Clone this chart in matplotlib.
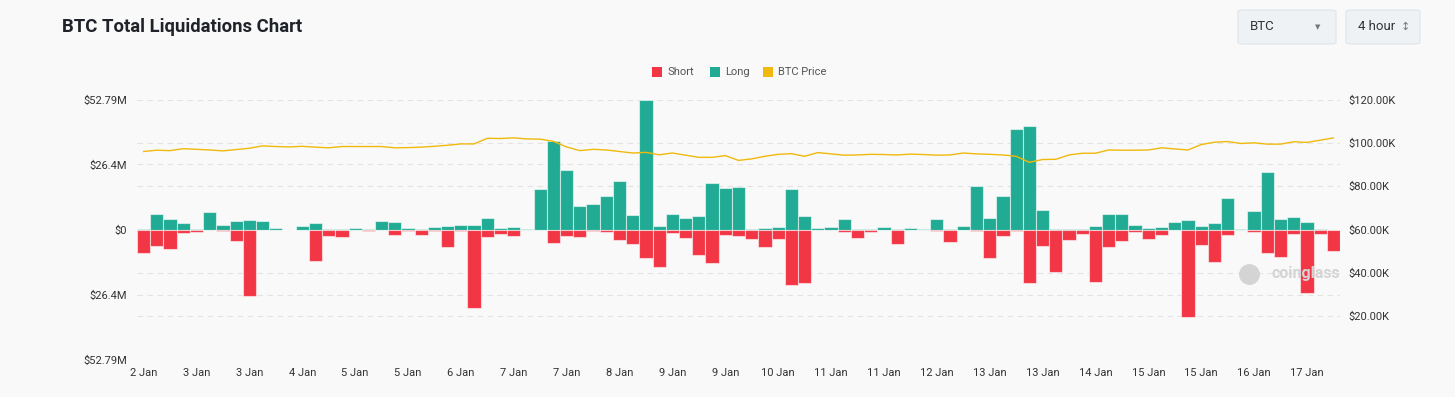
import matplotlib
matplotlib.use("Agg")
import matplotlib.pyplot as plt
from matplotlib.patches import FancyBboxPatch
import numpy as np
import pandas as pd

# 4-hour buckets, 2 Jan 12:00 -> 17 Jan 08:00
times = pd.date_range("2025-01-02 12:00", periods=91, freq="4h")

# long liquidations ($M), shown above zero
long_m = [0.3, 6.4, 4.2, 2.6, 0.3, 7.0, 1.9, 3.5, 3.9, 3.4,
          0.8, 0.0, 1.6, 2.8, 0.1, 0.1, 0.5, 0.1, 3.4, 3.0,
          0.8, 0.4, 1.1, 1.4, 1.8, 1.8, 4.7, 0.7, 1.1, 0.05,
          16.5, 36.0, 24.2, 9.6, 10.4, 13.8, 19.8, 5.7, 52.7, 1.5,
          6.4, 4.5, 5.6, 18.7, 16.7, 17.2, 0.1, 0.5, 1.1, 16.4,
          5.4, 0.7, 1.1, 4.3, 0.1, 0.3, 0.9, 0.2, 0.7, 0.4,
          4.3, 0.1, 1.5, 17.6, 4.7, 13.8, 40.8, 42.1, 7.9, 0.2,
          0.3, 0.3, 1.6, 6.2, 6.4, 2.0, 0.8, 1.2, 3.0, 3.9,
          1.6, 2.8, 12.7, 0.1, 7.6, 23.3, 4.3, 4.9, 3.0, 0.1, 0.0]

# short liquidations ($M), shown below zero
short_m = [9.6, 6.6, 8.1, 1.5, 0.9, 0.1, 0.8, 4.6, 27.2, 0.3,
           0.2, 0.4, 0.1, 12.7, 2.7, 3.0, 0.1, 0.7, 0.1, 2.2,
           0.7, 2.3, 0.8, 7.0, 0.5, 31.7, 3.2, 1.9, 2.6, 0.1,
           0.3, 5.3, 2.6, 3.0, 0.7, 1.1, 4.3, 5.8, 11.6, 15.2,
           1.5, 3.5, 10.2, 13.8, 2.4, 2.7, 3.9, 7.0, 3.9, 22.7,
           21.7, 0.4, 0.1, 1.1, 3.5, 1.1, 0.1, 6.0, 0.1, 0.1,
           0.5, 5.0, 0.1, 0.7, 11.6, 2.7, 0.7, 21.7, 6.9, 17.1,
           4.3, 1.8, 21.4, 7.2, 4.6, 0.9, 3.7, 2.4, 0.3, 35.7,
           6.4, 13.4, 2.3, 0.2, 1.2, 9.7, 11.0, 1.8, 25.9, 1.8, 8.9]

# BTC price ($K)
price_k = [96.0, 96.6, 96.4, 97.3, 97.0, 96.7, 96.3, 96.9, 97.5, 98.6,
           98.3, 98.1, 98.4, 98.0, 97.7, 98.3, 98.3, 98.3, 98.3, 97.7,
           97.8, 98.0, 98.4, 98.9, 99.5, 99.5, 102.1, 102.0, 102.3, 101.8,
           101.7, 100.7, 98.1, 96.4, 97.0, 96.7, 96.0, 95.3, 95.6, 94.5,
           95.3, 94.3, 93.3, 93.3, 94.1, 91.9, 92.6, 93.8, 94.7, 95.0,
           93.8, 95.5, 94.9, 94.3, 94.4, 94.7, 94.6, 94.4, 94.8, 94.6,
           94.3, 94.4, 95.3, 94.9, 94.7, 94.4, 93.8, 91.0, 92.3, 92.4,
           94.4, 95.2, 95.2, 96.7, 96.6, 96.6, 96.7, 97.7, 97.2, 96.7,
           99.2, 100.3, 100.6, 99.7, 100.0, 99.4, 99.4, 100.5, 100.2, 101.2, 102.3]

left_ticks = [-52.79, -26.4, 0, 26.4, 52.79]
left_labels = ["$52.79M", "$26.4M", "$0", "$26.4M", "$52.79M"]
right_ticks = [20, 40, 60, 80, 100, 120]
right_labels = ["$20.00K", "$40.00K", "$60.00K", "$80.00K", "$100.00K", "$120.00K"]

RED = "#f23645"
TEAL = "#22ab94"
GOLD = "#f0b90b"
BG = "#f9f9f9"
TXT = "#333333"

plt.rcParams["font.family"] = ["Roboto", "DejaVu Sans"]

fig = plt.figure(figsize=(14.55, 3.97), dpi=100, facecolor=BG)
ax = fig.add_axes([137 / 1455, 1 - 359.5 / 397, (1340 - 137) / 1455, 260 / 397])
ax.set_facecolor(BG)
ax2 = ax.twinx()

x = np.arange(len(times))
ax.bar(x, long_m, width=1.0, color=TEAL, edgecolor=(1, 1, 1, 0.55), linewidth=0.8, zorder=2)
ax.bar(x, [-v for v in short_m], width=1.0, color=RED, edgecolor=(1, 1, 1, 0.55), linewidth=0.8, zorder=2)
ax2.plot(x, price_k, color=GOLD, linewidth=1.0)

ax.set_xlim(-0.5, len(times) - 0.5)
ax.set_ylim(-52.79, 52.79)
ax2.set_ylim(0, 120)

# dashed grid for both scales, drawn behind the bars
grid_pos = set(left_ticks) | {(v - 60) / 60 * 52.79 for v in [0] + right_ticks}
for g in grid_pos:
    ax.axhline(g, color="#e3e3e3", linewidth=0.8, linestyle=(0, (5, 4)), zorder=0)

ax.set_yticks(left_ticks)
ax.set_yticklabels(left_labels)
ax2.set_yticks(right_ticks)
ax2.set_yticklabels(right_labels)
ax.set_xticks(x[::4])
ax.set_xticklabels([f"{t.day} Jan" for t in times[::4]])

for a in (ax, ax2):
    for s in a.spines.values():
        s.set_visible(False)
    a.tick_params(length=0, labelsize=8, colors=TXT)
ax.tick_params(axis="y", pad=7)
ax2.tick_params(axis="y", pad=6)
ax.tick_params(axis="x", pad=6)

# watermark
ax.text(1.0, 0.33, "coinglass", transform=ax.transAxes, ha="right", va="center",
        fontsize=11.5, fontweight="bold", color="#d4d4d4")
ax.plot([0.9245], [0.33], marker="o", markersize=14, color="#d4d4d4", transform=ax.transAxes)

# legend
items = [("Short", RED), ("Long", TEAL), ("BTC Price", GOLD)]
xs = [652, 710, 763]
for (lab, col), px in zip(items, xs):
    fig.patches.append(FancyBboxPatch((px / 1455, 1 - 77 / 397), 10 / 1455, 10 / 397,
                                      boxstyle="square,pad=0", transform=fig.transFigure,
                                      facecolor=col, edgecolor="none"))
    fig.text((px + 15) / 1455, 1 - 72 / 397, lab, fontsize=8, color="#555555", va="center")

# title
fig.text(62 / 1455, 1 - 27 / 397, "BTC Total Liquidations Chart", fontsize=13.3,
         fontweight="bold", color="#1f2329", va="center")

# selector boxes
for x0, w, lab in [(1238, 98, "BTC"), (1346, 74, "4 hour")]:
    fig.patches.append(FancyBboxPatch((x0 / 1455, 1 - 44 / 397), w / 1455, 34 / 397,
                                      boxstyle="round,pad=0,rounding_size=0.004",
                                      transform=fig.transFigure, facecolor="#eef2f5",
                                      edgecolor="#dfe5ea", linewidth=0.8))
    fig.text((x0 + 12) / 1455, 1 - 27 / 397, lab, fontsize=9.5, color="#333333", va="center")
fig.text(1318 / 1455, 1 - 27 / 397, "\u25BC", fontsize=5, color="#777777", va="center", ha="center",
         family="DejaVu Sans")
fig.text(1405 / 1455, 1 - 27 / 397, "\u2195", fontsize=8, color="#777777", va="center", ha="center",
         family="DejaVu Sans")

fig.savefig("out.png", dpi=100, facecolor=BG)
